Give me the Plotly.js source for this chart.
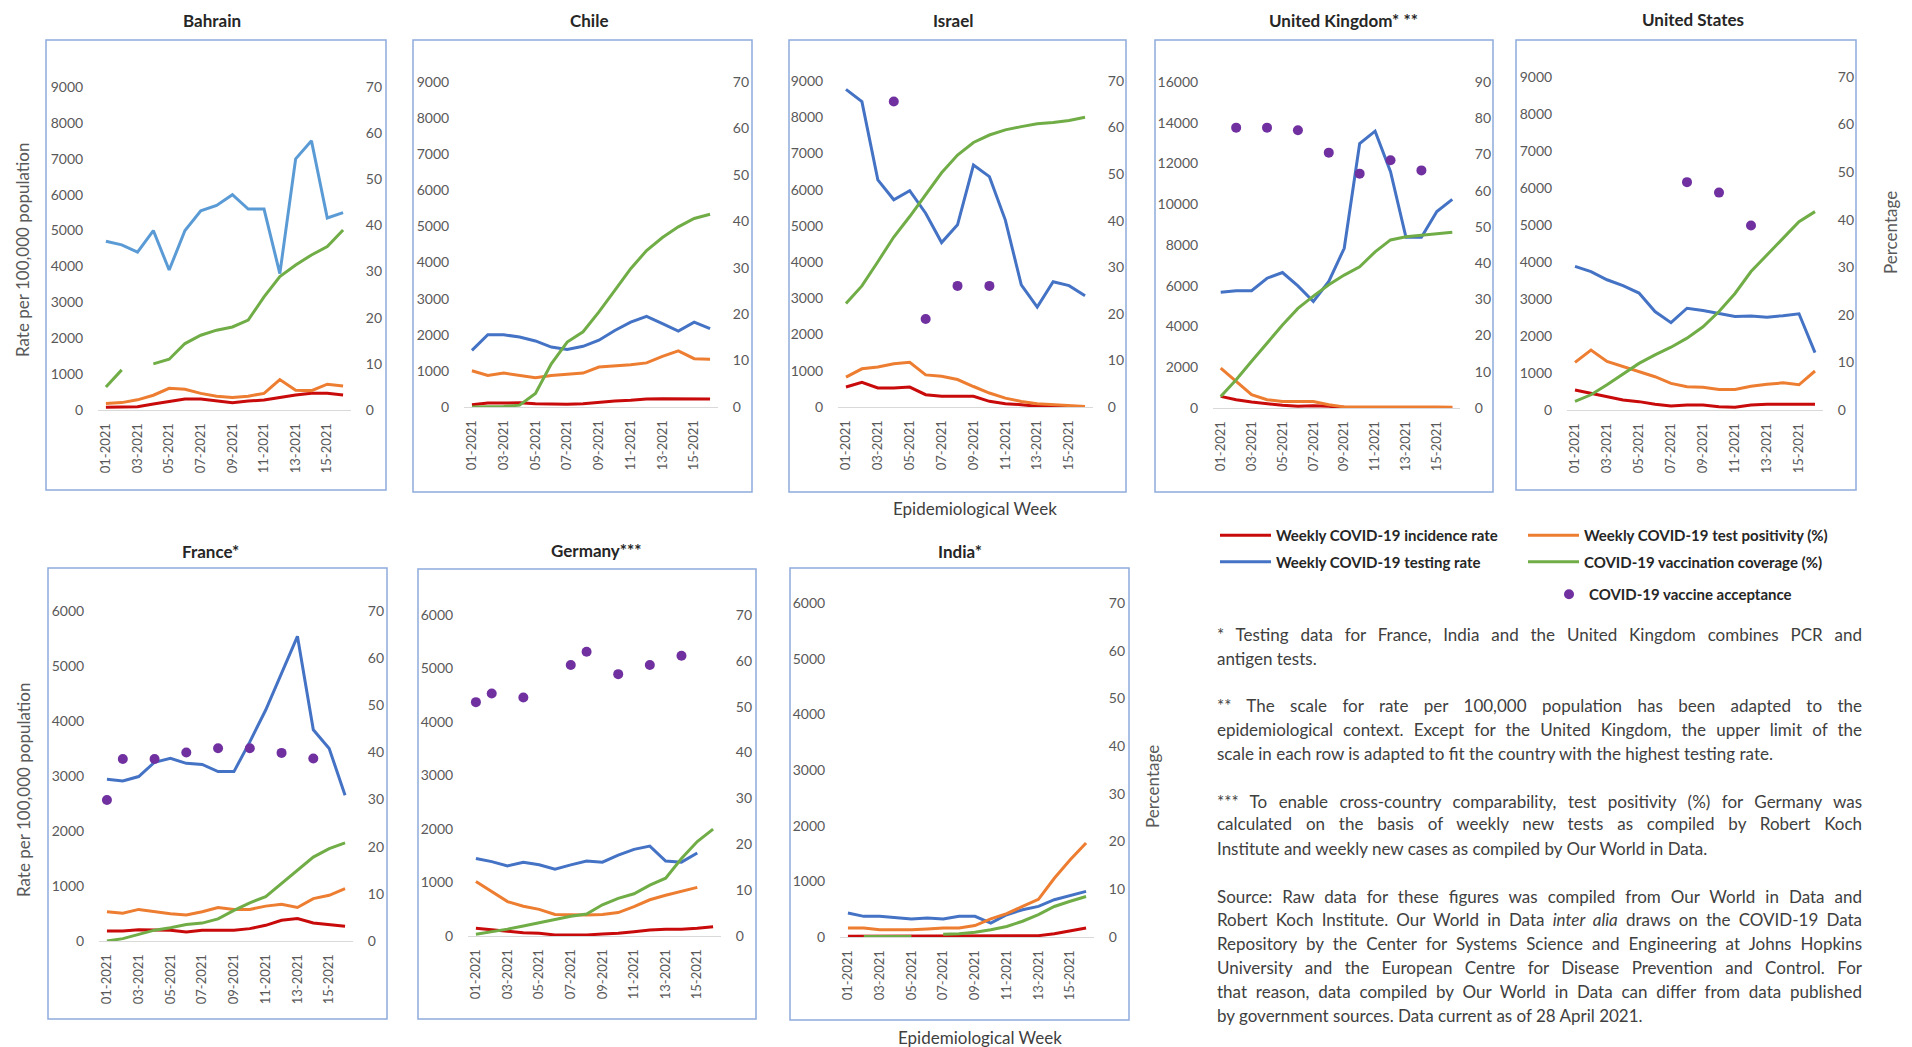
<!DOCTYPE html>
<html><head><meta charset="utf-8">
<script src="https://cdn.plot.ly/plotly-3.0.1.min.js"></script>
<style>html,body{margin:0;padding:0;background:#fff}#chart{width:1912px;height:1047px}</style>
</head><body><div id="chart"></div>
<script>
// ---------- DATA ----------
const weeks = ["01-2021","02-2021","03-2021","04-2021","05-2021","06-2021","07-2021","08-2021","09-2021","10-2021","11-2021","12-2021","13-2021","14-2021","15-2021","16-2021"];
const tickWeeks = ["01-2021","03-2021","05-2021","07-2021","09-2021","11-2021","13-2021","15-2021"];

const bahrainIncidence   = [74,74,93,167,232,306,306,250,204,250,278,350,418,464,464,418];
const bahrainTesting     = [4700,4600,4400,5000,3900,5000,5550,5700,6000,5600,5600,3800,7000,7500,5350,5500];
const bahrainPositivity  = [1.4,1.6,2.2,3.2,4.7,4.5,3.6,3.0,2.7,3.0,3.6,6.6,4.3,4.2,5.6,5.2];
const bahrainVaccination = [5.0,8.7,null,10.0,11.0,14.4,16.2,17.3,18.0,19.5,24.5,28.9,31.4,33.6,35.4,39.0];
const bahrainAcceptance  = [null,null,null,null,null,null,null,null,null,null,null,null,null,null,null,null];

const chileIncidence   = [65,110,110,120,92,74,74,92,138,166,185,220,230,230,230,220];
const chileTesting     = [1570,2000,2000,1940,1830,1660,1590,1680,1850,2120,2350,2510,2310,2100,2350,2170];
const chilePositivity  = [7.8,6.8,7.3,6.8,6.3,6.8,7.0,7.3,8.6,8.8,9.1,9.5,10.9,12.1,10.4,10.3];
const chileVaccination = [0,0,0.1,0.4,2.9,9.3,14.0,16.2,20.5,25.1,29.8,33.7,36.5,38.8,40.6,41.5];
const chileAcceptance  = [null,null,null,null,null,null,null,null,null,null,null,null,null,null,null,null];

const israelIncidence   = [551,680,524,524,551,340,294,294,294,156,92,64,18,18,9,9];
const israelTesting     = [8770,8430,6270,5720,5970,5350,4540,5030,6680,6360,5160,3370,2760,3460,3350,3070];
const israelPositivity  = [6.4,8.2,8.6,9.3,9.6,6.9,6.6,5.9,4.4,3.0,1.9,1.2,0.7,0.5,0.4,0.1];
const israelVaccination = [22.2,26.0,31.2,36.5,40.9,45.5,50.3,54.1,56.8,58.4,59.5,60.2,60.8,61.1,61.5,62.2];
const israelAcceptance  = [null,null,null,65.6,null,18.9,null,26.0,null,26.0,null,null,null,null,null,null];

const ukIncidence   = [570,410,295,210,130,80,115,80,33,30,25,20,20,20,15,15];
const ukTesting     = [5680,5760,5760,6370,6650,5990,5230,6210,7840,12980,13590,11600,8380,8380,9640,10240];
const ukPositivity  = [11.0,7.3,3.7,2.3,1.8,1.8,1.8,0.9,0.3,0.3,0.3,0.3,0.5,0.3,0.3,0.2];
const ukVaccination = [3.2,7.8,12.9,17.9,22.9,27.5,30.9,34.0,36.7,39.0,43.1,46.4,47.3,47.7,48.2,48.5];
const ukAcceptance  = [null,77.4,null,77.4,null,76.7,null,70.5,null,64.7,null,68.4,null,65.6,null,null];

const usIncidence   = [541,451,360,270,226,153,108,135,135,90,72,135,153,153,153,153];
const usTesting     = [3880,3740,3520,3360,3160,2660,2360,2750,2690,2620,2530,2540,2510,2550,2600,1550];
const usPositivity  = [10.0,12.6,10.2,9.1,8.1,7.0,5.6,4.9,4.8,4.3,4.3,5.0,5.4,5.7,5.3,8.2];
const usVaccination = [1.8,3.2,5.3,7.6,9.8,11.6,13.2,15.1,17.5,20.7,24.5,29.1,32.6,36.1,39.6,41.7];
const usAcceptance  = [null,null,null,null,null,null,null,47.9,null,45.7,null,38.8,null,null,null,null];

const franceIncidence   = [182,182,206,206,194,164,194,194,194,225,285,376,407,328,297,267];
const franceTesting     = [2940,2910,2990,3250,3320,3230,3210,3080,3080,3620,4200,4870,5540,3840,3500,2650];
const francePositivity  = [6.2,5.9,6.7,6.2,5.8,5.5,6.2,7.1,6.7,6.7,7.4,7.8,7.1,9.0,9.7,11.1];
const franceVaccination = [0,0.5,1.4,2.3,2.8,3.5,3.8,4.7,6.5,8.1,9.4,12.2,15.2,17.8,19.6,20.8];
const franceAcceptance  = [29.9,38.6,null,38.6,null,40.0,null,40.9,null,40.9,null,39.9,null,38.7,null,null];

const germanyIncidence   = [143,112,81,62,50,19,19,19,37,50,81,112,125,125,143,174];
const germanyTesting     = [1450,1390,1310,1380,1330,1250,1330,1400,1380,1510,1620,1680,1400,1380,1550,null];
const germanyPositivity  = [11.9,9.7,7.5,6.5,5.8,4.7,4.6,4.6,4.7,5.1,6.4,7.9,8.9,9.7,10.6,null];
const germanyVaccination = [0.4,0.9,1.5,2.2,2.9,3.6,4.3,4.8,6.8,8.2,9.2,11.1,12.6,16.9,20.6,23.3];
const germanyAcceptance  = [51.0,52.9,null,52.0,null,null,59.1,62.0,null,57.1,null,59.1,null,61.1,null,null];

const indiaIncidence   = [12,12,12,12,12,12,12,12,12,12,12,12,24,60,114,161];
const indiaTesting     = [430,371,371,341,323,341,323,371,371,251,400,490,550,670,741,820];
const indiaPositivity  = [1.9,1.9,1.5,1.5,1.5,1.7,1.9,1.9,2.4,3.8,4.9,6.4,7.9,12.3,16.2,19.7];
const indiaVaccination = [null,0.1,0.1,0.1,0.1,null,0.6,0.7,1.0,1.5,2.2,3.3,4.7,6.4,7.5,8.5];
const indiaAcceptance  = [null,null,null,null,null,null,null,null,null,null,null,null,null,null,null,null];

const seriesNames = ["Weekly COVID-19 incidence rate","Weekly COVID-19 testing rate","Weekly COVID-19 test positivity (%)","COVID-19 vaccination coverage (%)","COVID-19 vaccine acceptance"];

// ---------- LAYOUT TABLE (geometry in pixels) ----------
const W = 1912, H = 1047;
const px = v => v / W, py = v => 1 - v / H;
const C = {red:'#c80a0a', blue:'#4472c4', lightBlue:'#5b9bd5', orange:'#ed7d31', green:'#70ad47', purple:'#7030a0'};

const panels = [
  {title:'Bahrain', d:[bahrainIncidence,bahrainTesting,bahrainPositivity,bahrainVaccination,bahrainAcceptance],
   box:[46,40,386,490], plot:[98,87,351,410], lmax:9000, ldt:1000, rmax:70, tpos:[212,21], blue:C.lightBlue},
  {title:'Chile', d:[chileIncidence,chileTesting,chilePositivity,chileVaccination,chileAcceptance],
   box:[413,40,752,492], plot:[464,82,718,407], lmax:9000, ldt:1000, rmax:70, tpos:[589,21], blue:C.blue},
  {title:'Israel', d:[israelIncidence,israelTesting,israelPositivity,israelVaccination,israelAcceptance],
   box:[789,40,1126,492], plot:[838,81,1093,407], lmax:9000, ldt:1000, rmax:70, tpos:[953,21], blue:C.blue},
  {title:'United Kingdom* **', d:[ukIncidence,ukTesting,ukPositivity,ukVaccination,ukAcceptance],
   box:[1155,40,1493,492], plot:[1213,82,1460,408], lmax:16000, ldt:2000, rmax:90, tpos:[1343,20], blue:C.blue},
  {title:'United States', d:[usIncidence,usTesting,usPositivity,usVaccination,usAcceptance],
   box:[1516,40,1856,490], plot:[1567,77,1823,410], lmax:9000, ldt:1000, rmax:70, tpos:[1693,19], blue:C.blue},
  {title:'France*', d:[franceIncidence,franceTesting,francePositivity,franceVaccination,franceAcceptance],
   box:[48,568,387,1019], plot:[99,611,353,941], lmax:6000, ldt:1000, rmax:70, tpos:[210,551], blue:C.blue},
  {title:'Germany***', d:[germanyIncidence,germanyTesting,germanyPositivity,germanyVaccination,germanyAcceptance],
   box:[418,569,756,1019], plot:[468,615,721,936], lmax:6000, ldt:1000, rmax:70, tpos:[596,550], blue:C.blue},
  {title:'India*', d:[indiaIncidence,indiaTesting,indiaPositivity,indiaVaccination,indiaAcceptance],
   box:[790,568,1129,1020], plot:[840,603,1094,937], lmax:6000, ldt:1000, rmax:70, tpos:[960,551], blue:C.blue}
];

const FONT = 'Lato, "Open Sans", sans-serif';
const yTickFont = {family:FONT, size:14, color:'#595959'};
const xTickFont = {family:FONT, size:13, color:'#595959'};

const traces = [];
const layout = {
  width:W, height:H, margin:{l:0,r:0,t:0,b:0},
  paper_bgcolor:'#fff', plot_bgcolor:'rgba(0,0,0,0)',
  font:{family:FONT, color:'#404040'},
  shapes:[], annotations:[],
  hovermode:false
};

panels.forEach((p,i)=>{
  const k = i+1;
  const xid = k===1 ? 'x' : 'x'+k;
  const yl = 2*k-1, yr = 2*k;
  const ylid = yl===1 ? 'y' : 'y'+yl;
  const yrid = 'y'+yr;
  layout['xaxis'+(k===1?'':k)] = {
    domain:[px(p.plot[0]), px(p.plot[2])], anchor:ylid, type:'category',
    categoryorder:'array', categoryarray:weeks, range:[-0.5,15.5],
    tickmode:'array', tickvals:tickWeeks, ticktext:tickWeeks, tickangle:-90,
    ticks:'outside', ticklen:7, tickcolor:'rgba(0,0,0,0)', tickfont:xTickFont,
    showline:true, linecolor:'#d9d9d9', linewidth:1, showgrid:false, zeroline:false,
    automargin:false, fixedrange:true
  };
  layout['yaxis'+(yl===1?'':yl)] = {
    domain:[py(p.plot[3]), py(p.plot[1])], anchor:xid, range:[0,p.lmax], dtick:p.ldt, tick0:0,
    tickformat:'d', exponentformat:'none',
    ticks:'outside', ticklen:11, tickcolor:'rgba(0,0,0,0)', tickfont:yTickFont,
    showline:false, showgrid:false, zeroline:false, automargin:false, fixedrange:true
  };
  layout['yaxis'+yr] = {
    overlaying:ylid, side:'right', anchor:xid, range:[0,p.rmax], dtick:10, tick0:0,
    ticks:'outside', ticklen:11, tickcolor:'rgba(0,0,0,0)', tickfont:yTickFont,
    showline:false, showgrid:false, zeroline:false, automargin:false, fixedrange:true
  };
  const legendPanelLines = 1;   // Chile supplies the legend entries for the lines
  const legendPanelDots = 2;    // Israel supplies the legend entry for the dots
  const lineSpec = [
    {y:p.d[0], color:C.red,   ax:ylid, grp:'inc', leg:'legend'},
    {y:p.d[1], color:p.blue,  ax:ylid, grp:'tst', leg:'legend'},
    {y:p.d[2], color:C.orange,ax:yrid, grp:'pos', leg:'legend2'},
    {y:p.d[3], color:C.green, ax:yrid, grp:'vac', leg:'legend2'}
  ];
  lineSpec.forEach((s,j)=>{
    traces.push({
      type:'scatter', mode:'lines', x:weeks, y:s.y, xaxis:xid, yaxis:s.ax,
      name:seriesNames[j], legendgroup:s.grp, legend:s.leg,
      showlegend: i===legendPanelLines,
      line:{color:s.color, width:3},
      connectgaps:false, hoverinfo:'skip'
    });
  });
  traces.push({
    type:'scatter', mode:'markers', x:weeks, y:p.d[4], xaxis:xid, yaxis:yrid,
    name:seriesNames[4], legendgroup:'acc', legend:'legend3', showlegend: i===legendPanelDots,
    marker:{color:C.purple, size:10}, hoverinfo:'skip'
  });
  layout.shapes.push({type:'rect', xref:'paper', yref:'paper',
    x0:px(p.box[0]), x1:px(p.box[2]), y0:py(p.box[3]), y1:py(p.box[1]),
    line:{color:'#8faadc', width:1.5}, fillcolor:'rgba(0,0,0,0)', layer:'below'});
  layout.annotations.push({xref:'paper', yref:'paper', x:px(p.tpos[0]), y:py(p.tpos[1]),
    xanchor:'center', yanchor:'middle', showarrow:false, text:'<b>'+p.title+'</b>',
    font:{family:FONT, size:17, color:'#262626'}});
});

const axisTitleFont = {family:FONT, size:17, color:'#595959'};
[[22,250],[23,790]].forEach(a=>layout.annotations.push({xref:'paper',yref:'paper',x:px(a[0]),y:py(a[1]),
  xanchor:'center',yanchor:'middle',showarrow:false,textangle:-90,text:'Rate per 100,000 population',font:axisTitleFont}));
[[1891,233],[1152,787]].forEach(a=>layout.annotations.push({xref:'paper',yref:'paper',x:px(a[0]),y:py(a[1]),
  xanchor:'center',yanchor:'middle',showarrow:false,textangle:-90,text:'Percentage',font:axisTitleFont}));
[[975,508],[980,1037]].forEach(a=>layout.annotations.push({xref:'paper',yref:'paper',x:px(a[0]),y:py(a[1]),
  xanchor:'center',yanchor:'middle',showarrow:false,text:'Epidemiological Week',font:{family:FONT,size:17,color:'#404040'}}));

// footnotes (justify = stretched to the block width, like the original)
const notes = [
  ["* Testing data for France, India and the United Kingdom combines PCR and",634,true],
  ["antigen tests.",658,false],
  ["** The scale for rate per 100,000 population has been adapted to the",705,true],
  ["epidemiological context. Except for the United Kingdom, the upper limit of the",729,true],
  ["scale in each row is adapted to fit the country with the highest testing rate.",753,false],
  ["*** To enable cross-country comparability, test positivity (%) for Germany was",801,true],
  ["calculated on the basis of weekly new tests as compiled by Robert Koch",824,true],
  ["Institute and weekly new cases as compiled by Our World in Data.",848,false],
  ["Source: Raw data for these figures was compiled from Our World in Data and",896,true],
  ["Robert Koch Institute. Our World in Data <i>inter alia</i> draws on the COVID-19 Data",919,true],
  ["Repository by the Center for Systems Science and Engineering at Johns Hopkins",943,true],
  ["University and the European Centre for Disease Prevention and Control. For",967,true],
  ["that reason, data compiled by Our World in Data can differ from data published",991,true],
  ["by government sources. Data current as of 28 April 2021.",1015,false]
];
const noteBase = layout.annotations.length;
notes.forEach(n=>layout.annotations.push({xref:'paper',yref:'paper',x:px(1215),y:py(n[1]),
  xanchor:'left',yanchor:'middle',showarrow:false,align:'left',text:n[0],
  font:{family:FONT,size:17,color:'#404040'}}));

const legFont = {family:FONT, size:15, color:'#262626', weight:'bold'};
layout.legend  = {x:px(1215), y:py(519), xanchor:'left', yanchor:'top', font:legFont, bgcolor:'rgba(0,0,0,0)',
  traceorder:'grouped', tracegroupgap:4, orientation:'v', itemwidth:51};
layout.legend2 = {x:px(1523), y:py(519), xanchor:'left', yanchor:'top', font:legFont, bgcolor:'rgba(0,0,0,0)',
  traceorder:'grouped', tracegroupgap:4, orientation:'v', itemwidth:51};
layout.legend3 = {x:px(1549), y:py(578), xanchor:'left', yanchor:'top', font:legFont, bgcolor:'rgba(0,0,0,0)',
  orientation:'v'};

Plotly.newPlot('chart', traces, layout, {staticPlot:true, displayModeBar:false}).then(gd=>{
  const target = 645;
  notes.forEach((n,j)=>{
    if(!n[2]) return;
    const g = gd.querySelector('.annotation[data-index="'+(noteBase+j)+'"]');
    const t = g && g.querySelector('text.annotation-text');
    if(!t) return;
    const w0 = t.getComputedTextLength();
    const spaces = (t.textContent.match(/ /g)||[]).length;
    if(!spaces || w0 >= target) return;
    const b0 = t.getBBox();
    t.style.wordSpacing = ((target - w0)/spaces) + 'px';
    const b1 = t.getBBox();
    const dx = b0.x - b1.x;
    if(Math.abs(dx) > 0.1) t.setAttribute('transform','translate('+dx+',0)');
  });
});
</script></body></html>
